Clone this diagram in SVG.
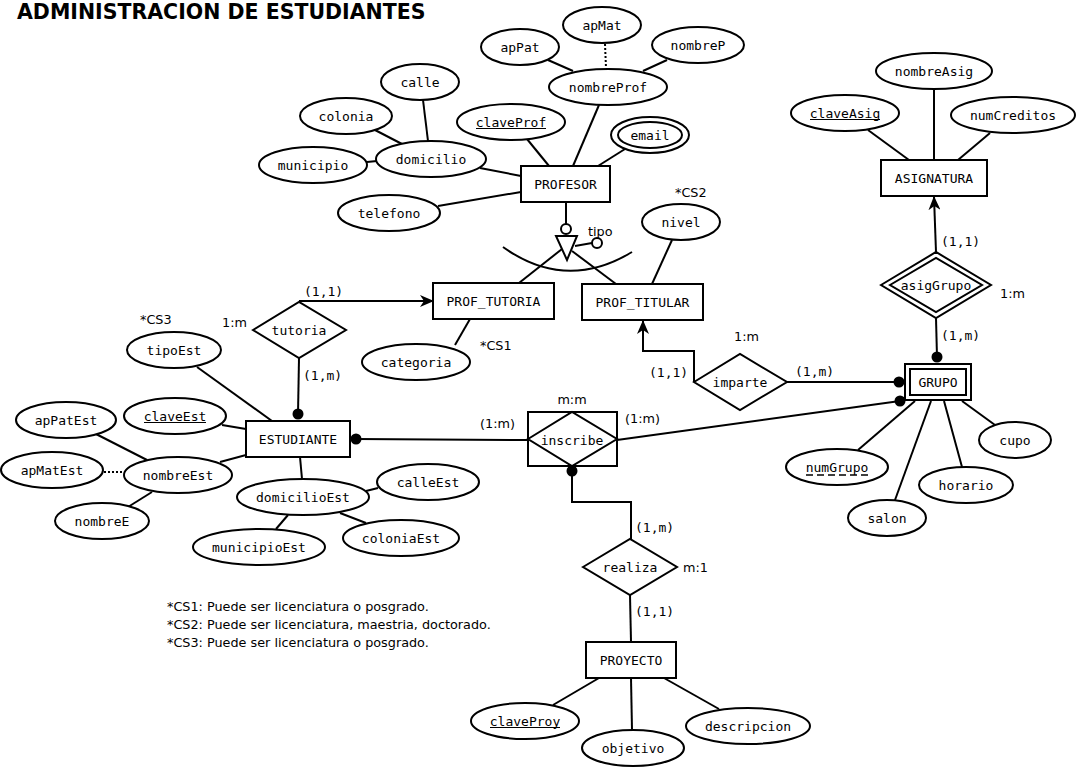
<svg xmlns="http://www.w3.org/2000/svg" width="1076" height="767" viewBox="0 0 1076 767">
<style>
.e{fill:#fff;stroke:#000;stroke-width:2}
.t{font-family:"DejaVu Sans Mono","Liberation Mono",monospace;font-size:13px;text-anchor:middle;fill:#000}
.m{font-family:"DejaVu Sans Mono","Liberation Mono",monospace;font-size:13px;fill:#000}
.l{font-family:"DejaVu Sans","Liberation Sans",sans-serif;font-size:12.8px;fill:#000}
.c{stroke:#000;stroke-width:2;fill:none}
.d{fill:#000}
</style>
<defs>
<marker id="arr" viewBox="0 0 14 12" refX="13" refY="6" markerWidth="14" markerHeight="12" markerUnits="userSpaceOnUse" orient="auto">
<path d="M0,0 L14,6 L0,12 L4,6 z" fill="#000"/>
</marker>
</defs>
<rect width="1076" height="767" fill="#fff"/>
<text x="17" y="19" font-family="DejaVu Sans,Liberation Sans,sans-serif" font-weight="bold" font-size="20.5">ADMINISTRACION DE ESTUDIANTES</text>

<g id="connectors">
<line class="c" x1="548" y1="60" x2="573" y2="71"/>
<line class="c" x1="605" y1="44" x2="606" y2="68" stroke-dasharray="2,2"/>
<line class="c" x1="667" y1="60" x2="643" y2="71"/>
<line class="c" x1="599" y1="105" x2="573" y2="166"/>
<line class="c" x1="527" y1="139" x2="549" y2="166"/>
<line class="c" x1="625" y1="149" x2="598" y2="166"/>
<line class="c" x1="480" y1="168" x2="521" y2="176"/>
<line class="c" x1="438" y1="206" x2="521" y2="192"/>
<line class="c" x1="423" y1="100" x2="428" y2="141"/>
<line class="c" x1="375" y1="130" x2="402" y2="144"/>
<line class="c" x1="367" y1="162" x2="377" y2="161"/>
<line class="c" x1="566" y1="202" x2="566" y2="224"/>
<line class="c" x1="575" y1="246" x2="592" y2="243"/>
<line class="c" x1="562" y1="249" x2="519" y2="283"/>
<line class="c" x1="572" y1="251" x2="616" y2="284"/>
<path class="c" d="M503,247 Q566,292 632,252"/>
<line class="c" x1="672" y1="240" x2="652" y2="284"/>
<line class="c" x1="455" y1="345" x2="470" y2="319"/>
<line class="c" x1="299" y1="301" x2="433" y2="301" marker-end="url(#arr)"/>
<line class="c" x1="299" y1="358" x2="298" y2="414"/>
<circle class="d" cx="298" cy="414" r="5.5"/>
<line class="c" x1="197" y1="367" x2="272" y2="421"/>
<line class="c" x1="222" y1="425" x2="246" y2="429"/>
<line class="c" x1="96" y1="434" x2="147" y2="460"/>
<line class="c" x1="104" y1="472" x2="124" y2="472" stroke-dasharray="2,2"/>
<line class="c" x1="128" y1="507" x2="152" y2="492"/>
<line class="c" x1="220" y1="462" x2="246" y2="455"/>
<line class="c" x1="300" y1="457" x2="302" y2="479"/>
<line class="c" x1="366" y1="491" x2="378" y2="488"/>
<line class="c" x1="340" y1="513" x2="366" y2="523"/>
<line class="c" x1="288" y1="515" x2="276" y2="529"/>
<circle class="d" cx="356" cy="439" r="5.5"/>
<line class="c" x1="356" y1="439" x2="528" y2="440"/>
<line class="c" x1="617" y1="440" x2="900" y2="401"/>
<circle class="d" cx="900" cy="401" r="5.5"/>
<circle class="d" cx="572" cy="471" r="5.5"/>
<polyline class="c" points="572,471 572,502 631,502 631,539"/>
<line class="c" x1="630" y1="595" x2="631" y2="642"/>
<line class="c" x1="599" y1="678" x2="553" y2="705"/>
<line class="c" x1="631" y1="678" x2="632" y2="730"/>
<line class="c" x1="664" y1="678" x2="719" y2="709"/>
<polyline class="c" points="694,382 694,351 643,351 643,321" marker-end="url(#arr)"/>
<line class="c" x1="787" y1="382" x2="899" y2="382"/>
<circle class="d" cx="899" cy="382" r="5.5"/>
<line class="c" x1="868" y1="130" x2="909" y2="160"/>
<line class="c" x1="934" y1="88" x2="934" y2="160"/>
<line class="c" x1="990" y1="133" x2="958" y2="160"/>
<line class="c" x1="936" y1="252" x2="934" y2="197" marker-end="url(#arr)"/>
<line class="c" x1="936" y1="318" x2="937" y2="357"/>
<circle class="d" cx="937" cy="357" r="5.5"/>
<line class="c" x1="915" y1="401" x2="858" y2="450"/>
<line class="c" x1="931" y1="401" x2="895" y2="500"/>
<line class="c" x1="944" y1="401" x2="962" y2="467"/>
<line class="c" x1="962" y1="401" x2="995" y2="425"/>
</g>

<g id="apMat"><ellipse class="e" cx="602" cy="25" rx="39" ry="18"/><text class="t" x="602" y="29.5">apMat</text></g>
<g id="apPat"><ellipse class="e" cx="520" cy="47" rx="39" ry="18"/><text class="t" x="520" y="51.5">apPat</text></g>
<g id="nombreP"><ellipse class="e" cx="698" cy="45" rx="46" ry="18"/><text class="t" x="698" y="49.5">nombreP</text></g>
<g id="nombreProf"><ellipse class="e" cx="608" cy="87" rx="59" ry="18"/><text class="t" x="608" y="91.5">nombreProf</text></g>
<g id="calle"><ellipse class="e" cx="420" cy="82" rx="39" ry="18"/><text class="t" x="420" y="86.5">calle</text></g>
<g id="colonia"><ellipse class="e" cx="346" cy="116" rx="46" ry="18"/><text class="t" x="346" y="120.5">colonia</text></g>
<g id="claveProf"><ellipse class="e" cx="511" cy="122" rx="54" ry="18"/><text class="t" x="511" y="126.5">claveProf</text><line x1="476" y1="128.5" x2="546" y2="128.5" stroke="#000" stroke-width="1.2"/></g>
<g id="email"><ellipse class="e" cx="650" cy="135" rx="39" ry="18"/><ellipse class="e" cx="650" cy="135" rx="32" ry="13"/><text class="t" x="650" y="139.5">email</text></g>
<g id="domicilio"><ellipse class="e" cx="431" cy="159" rx="55" ry="18"/><text class="t" x="431" y="163.5">domicilio</text></g>
<g id="municipio"><ellipse class="e" cx="313" cy="165" rx="54" ry="18"/><text class="t" x="313" y="169.5">municipio</text></g>
<g id="telefono"><ellipse class="e" cx="389" cy="213" rx="51" ry="18"/><text class="t" x="389" y="217.5">telefono</text></g>
<g id="PROFESOR"><rect class="e" x="521" y="166" width="89" height="36"/><text class="t" x="565.5" y="188.5">PROFESOR</text></g>

<g id="especializacion">
<circle class="e" cx="566" cy="229" r="5"/>
<path class="e" d="M556,236 L577,236 L567,260 z"/>
<circle class="e" cx="597" cy="243" r="5"/>
<text class="l" x="588" y="236">tipo</text>
</g>

<g id="nivel"><ellipse class="e" cx="681" cy="222" rx="39" ry="18"/><text class="t" x="681" y="226.5">nivel</text><text class="l" x="675" y="197">*CS2</text></g>
<g id="PROF_TUTORIA"><rect class="e" x="433" y="283" width="121" height="36"/><text class="t" x="493.5" y="305.5">PROF_TUTORIA</text></g>
<g id="PROF_TITULAR"><rect class="e" x="582" y="284" width="121" height="36"/><text class="t" x="642.5" y="306.5">PROF_TITULAR</text></g>
<g id="categoria"><ellipse class="e" cx="416" cy="362" rx="54" ry="18"/><text class="t" x="416" y="366.5">categoria</text><text class="l" x="480" y="350">*CS1</text></g>

<g id="tutoria"><path class="e" d="M253,330 L299,302 L346,330 L299,358 z"/><text class="t" x="299" y="334.5">tutoria</text>
<text class="m" x="304" y="296">(1,1)</text><text class="l" x="222" y="327">1:m</text><text class="m" x="303" y="380">(1,m)</text></g>

<g id="tipoEst"><ellipse class="e" cx="174" cy="350" rx="47" ry="18"/><text class="t" x="174" y="354.5">tipoEst</text><text class="l" x="140" y="324">*CS3</text></g>
<g id="claveEst"><ellipse class="e" cx="175" cy="416" rx="51" ry="18"/><text class="t" x="175" y="420.5">claveEst</text><line x1="144" y1="422.5" x2="206" y2="422.5" stroke="#000" stroke-width="1.2"/></g>
<g id="apPatEst"><ellipse class="e" cx="66" cy="420" rx="50" ry="18"/><text class="t" x="66" y="424.5">apPatEst</text></g>
<g id="apMatEst"><ellipse class="e" cx="52" cy="470" rx="51" ry="18"/><text class="t" x="52" y="474.5">apMatEst</text></g>
<g id="nombreEst"><ellipse class="e" cx="178" cy="475" rx="54" ry="18"/><text class="t" x="178" y="479.5">nombreEst</text></g>
<g id="nombreE"><ellipse class="e" cx="102" cy="521" rx="47" ry="18"/><text class="t" x="102" y="525.5">nombreE</text></g>
<g id="ESTUDIANTE"><rect class="e" x="246" y="421" width="104" height="36"/><text class="t" x="298" y="443.5">ESTUDIANTE</text></g>
<g id="domicilioEst"><ellipse class="e" cx="303" cy="497" rx="66" ry="18"/><text class="t" x="303" y="501.5">domicilioEst</text></g>
<g id="calleEst"><ellipse class="e" cx="428" cy="482" rx="51" ry="18"/><text class="t" x="428" y="486.5">calleEst</text></g>
<g id="coloniaEst"><ellipse class="e" cx="401" cy="538" rx="58" ry="18"/><text class="t" x="401" y="542.5">coloniaEst</text></g>
<g id="municipioEst"><ellipse class="e" cx="259" cy="547" rx="66" ry="18"/><text class="t" x="259" y="551.5">municipioEst</text></g>

<g id="inscribe"><rect class="e" x="528" y="412" width="89" height="54"/><path class="c" d="M528,439 L572,412 L617,439 L572,466 z"/><text class="t" x="572" y="444.5">inscribe</text>
<text class="l" x="572" y="404" text-anchor="middle">m:m</text><text class="l" x="480" y="428">(1:m)</text><text class="l" x="625" y="423">(1:m)</text></g>

<g id="realiza"><path class="e" d="M583,567 L630,539 L677,567 L630,595 z"/><text class="t" x="630" y="571.5">realiza</text>
<text class="m" x="635" y="532">(1,m)</text><text class="l" x="683" y="572">m:1</text><text class="m" x="635" y="616">(1,1)</text></g>

<g id="PROYECTO"><rect class="e" x="586" y="642" width="90" height="36"/><text class="t" x="631" y="664.5">PROYECTO</text></g>
<g id="claveProy"><ellipse class="e" cx="525" cy="721" rx="54" ry="18"/><text class="t" x="525" y="725.5">claveProy</text><line x1="490" y1="727.5" x2="560" y2="727.5" stroke="#000" stroke-width="1.2"/></g>
<g id="objetivo"><ellipse class="e" cx="633" cy="748" rx="51" ry="18"/><text class="t" x="633" y="752.5">objetivo</text></g>
<g id="descripcion"><ellipse class="e" cx="748" cy="726" rx="62" ry="18"/><text class="t" x="748" y="730.5">descripcion</text></g>

<g id="imparte"><path class="e" d="M694,382 L740,354 L787,382 L740,410 z"/><text class="t" x="740" y="386.5">imparte</text>
<text class="l" x="734" y="341">1:m</text><text class="m" x="649" y="377">(1,1)</text><text class="m" x="795" y="376">(1,m)</text></g>

<g id="ASIGNATURA"><rect class="e" x="881" y="160" width="106" height="36"/><text class="t" x="934" y="182.5">ASIGNATURA</text></g>
<g id="nombreAsig"><ellipse class="e" cx="934" cy="71" rx="58" ry="18"/><text class="t" x="934" y="75.5">nombreAsig</text></g>
<g id="claveAsig"><ellipse class="e" cx="845" cy="113" rx="54" ry="18"/><text class="t" x="845" y="117.5">claveAsig</text><line x1="810" y1="119.5" x2="880" y2="119.5" stroke="#000" stroke-width="1.2"/></g>
<g id="numCreditos"><ellipse class="e" cx="1013" cy="115" rx="62" ry="18"/><text class="t" x="1013" y="119.5">numCreditos</text></g>

<g id="asigGrupo"><path class="e" d="M881,285 L936,252 L991,285 L936,318 z"/><path class="c" d="M890,285 L936,258 L982,285 L936,312 z"/><text class="t" x="936" y="289.5">asigGrupo</text>
<text class="m" x="941" y="246">(1,1)</text><text class="l" x="1000" y="298">1:m</text><text class="m" x="941" y="340">(1,m)</text></g>

<g id="GRUPO"><rect class="e" x="905" y="364" width="66" height="36"/><rect class="e" x="910" y="369" width="56" height="26"/><text class="t" x="938" y="386.5">GRUPO</text></g>
<g id="numGrupo"><ellipse class="e" cx="837" cy="467" rx="51" ry="18"/><text class="t" x="837" y="471.5">numGrupo</text><line x1="806" y1="475" x2="869" y2="475" stroke="#000" stroke-width="1.5" stroke-dasharray="7,4"/></g>
<g id="salon"><ellipse class="e" cx="887" cy="518" rx="39" ry="18"/><text class="t" x="887" y="522.5">salon</text></g>
<g id="horario"><ellipse class="e" cx="966" cy="485" rx="47" ry="18"/><text class="t" x="966" y="489.5">horario</text></g>
<g id="cupo"><ellipse class="e" cx="1015" cy="440" rx="36" ry="18"/><text class="t" x="1015" y="444.5">cupo</text></g>

<g id="notas">
<text class="l" x="167" y="611">*CS1: Puede ser licenciatura o posgrado.</text>
<text class="l" x="167" y="629">*CS2: Puede ser licenciatura, maestria, doctorado.</text>
<text class="l" x="167" y="647">*CS3: Puede ser licenciatura o posgrado.</text>
</g>
</svg>
